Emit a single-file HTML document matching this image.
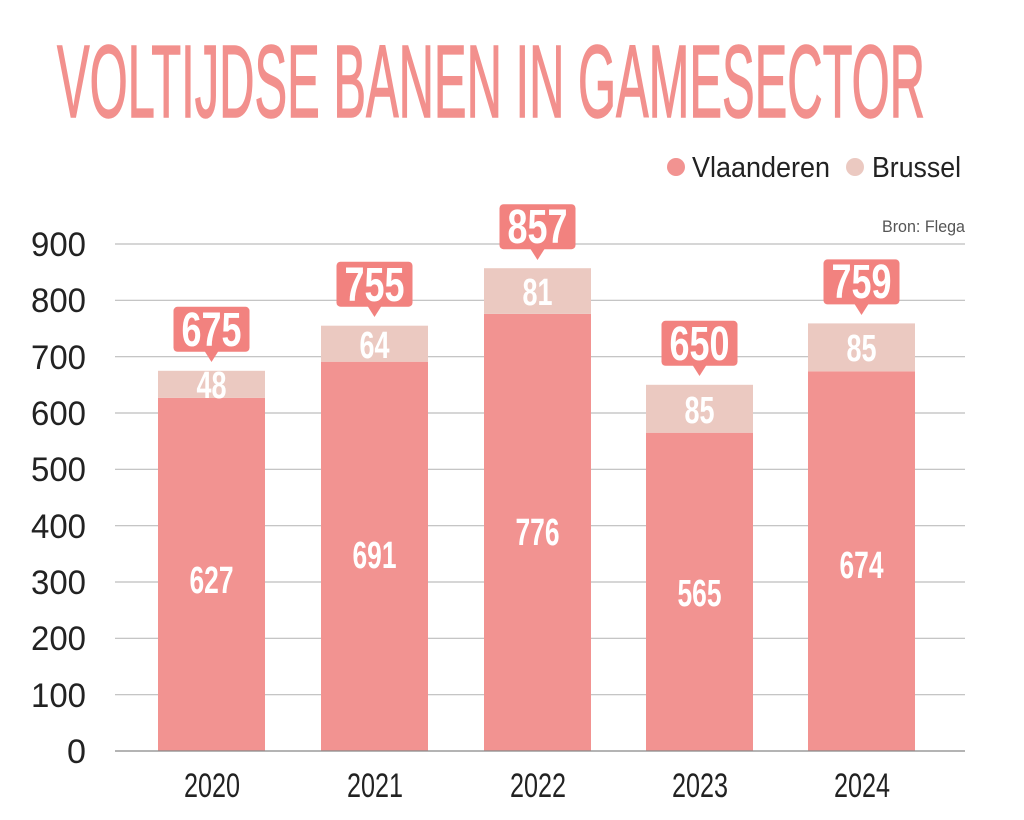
<!DOCTYPE html>
<html><head><meta charset="utf-8"><style>
html,body{margin:0;padding:0;background:#fff;}
svg{display:block;font-family:"Liberation Sans Narrow","Liberation Sans",sans-serif;}
</style></head><body>
<svg width="1024" height="820" viewBox="0 0 1024 820" xmlns="http://www.w3.org/2000/svg">
<rect width="1024" height="820" fill="#fff"/>
<text x="57" y="117" font-size="103" fill="#f2908d" stroke="#f2908d" stroke-width="1.5" textLength="868" lengthAdjust="spacingAndGlyphs">VOLTIJDSE BANEN IN GAMESECTOR</text>
<circle cx="676" cy="167" r="9" fill="#f29391"/>
<text x="692" y="177" font-size="29" fill="#222" textLength="138" lengthAdjust="spacingAndGlyphs">Vlaanderen</text>
<circle cx="855" cy="167" r="9" fill="#ebc9c1"/>
<text x="872" y="177" font-size="29" fill="#222" textLength="89" lengthAdjust="spacingAndGlyphs">Brussel</text>
<text x="965" y="232" font-size="17" fill="#555" text-anchor="end" textLength="83" lengthAdjust="spacingAndGlyphs">Bron: Flega</text>
<g stroke="#bdbdbd" stroke-width="1.2">
<line x1="115" x2="965" y1="244" y2="244"/><line x1="115" x2="965" y1="300.3" y2="300.3"/>
<line x1="115" x2="965" y1="356.7" y2="356.7"/><line x1="115" x2="965" y1="413" y2="413"/>
<line x1="115" x2="965" y1="469.3" y2="469.3"/><line x1="115" x2="965" y1="525.7" y2="525.7"/>
<line x1="115" x2="965" y1="582" y2="582"/><line x1="115" x2="965" y1="638.3" y2="638.3"/>
<line x1="115" x2="965" y1="694.7" y2="694.7"/>
</g>
<g font-size="34" fill="#222" text-anchor="end">
<text x="86" y="256" textLength="55" lengthAdjust="spacingAndGlyphs">900</text>
<text x="86" y="312" textLength="55" lengthAdjust="spacingAndGlyphs">800</text>
<text x="86" y="369" textLength="55" lengthAdjust="spacingAndGlyphs">700</text>
<text x="86" y="425" textLength="55" lengthAdjust="spacingAndGlyphs">600</text>
<text x="86" y="481" textLength="55" lengthAdjust="spacingAndGlyphs">500</text>
<text x="86" y="538" textLength="55" lengthAdjust="spacingAndGlyphs">400</text>
<text x="86" y="594" textLength="55" lengthAdjust="spacingAndGlyphs">300</text>
<text x="86" y="650" textLength="55" lengthAdjust="spacingAndGlyphs">200</text>
<text x="86" y="707" textLength="55" lengthAdjust="spacingAndGlyphs">100</text>
<text x="86" y="763" textLength="19" lengthAdjust="spacingAndGlyphs">0</text>
</g>
<g fill="#f29391">
<rect x="158" y="397.8" width="107" height="353.2"/>
<rect x="321" y="361.7" width="107" height="389.3"/>
<rect x="484" y="313.9" width="107" height="437.1"/>
<rect x="646" y="432.7" width="107" height="318.3"/>
<rect x="808" y="371.3" width="107" height="379.7"/>
</g>
<g fill="#ebc9c1">
<rect x="158" y="370.8" width="107" height="27"/>
<rect x="321" y="325.7" width="107" height="36"/>
<rect x="484" y="268.2" width="107" height="45.7"/>
<rect x="646" y="384.8" width="107" height="47.9"/>
<rect x="808" y="323.4" width="107" height="47.9"/>
</g>
<line x1="115" x2="965" y1="751" y2="751" stroke="#888" stroke-width="1.2"/>
<g font-size="38" fill="#fff" font-weight="bold" text-anchor="middle">
<text x="211.5" y="593" textLength="44" lengthAdjust="spacingAndGlyphs">627</text>
<text x="374.5" y="568" textLength="44" lengthAdjust="spacingAndGlyphs">691</text>
<text x="537.5" y="545" textLength="44" lengthAdjust="spacingAndGlyphs">776</text>
<text x="699.5" y="606" textLength="44" lengthAdjust="spacingAndGlyphs">565</text>
<text x="861.5" y="578" textLength="44" lengthAdjust="spacingAndGlyphs">674</text>
<text x="211.5" y="398" textLength="30" lengthAdjust="spacingAndGlyphs">48</text>
<text x="374.5" y="358" textLength="30" lengthAdjust="spacingAndGlyphs">64</text>
<text x="537.5" y="305" textLength="30" lengthAdjust="spacingAndGlyphs">81</text>
<text x="699.5" y="423" textLength="30" lengthAdjust="spacingAndGlyphs">85</text>
<text x="861.5" y="361" textLength="30" lengthAdjust="spacingAndGlyphs">85</text>
</g>
<g fill="#f2827f">
<rect x="173.5" y="306.8" width="76" height="45" rx="4"/><polygon points="204.5,351 218.5,351 211.5,362"/>
<rect x="336.5" y="261.7" width="76" height="45" rx="4"/><polygon points="367.5,306 381.5,306 374.5,317"/>
<rect x="499.5" y="204.2" width="76" height="45" rx="4"/><polygon points="530.5,249 544.5,249 537.5,260"/>
<rect x="661.5" y="320.8" width="76" height="45" rx="4"/><polygon points="692.5,365 706.5,365 699.5,376"/>
<rect x="823.5" y="259.4" width="76" height="45" rx="4"/><polygon points="854.5,304 868.5,304 861.5,315"/>
</g>
<g font-size="48" fill="#fff" font-weight="bold" text-anchor="middle">
<text x="211.5" y="346" textLength="60" lengthAdjust="spacingAndGlyphs">675</text>
<text x="374.5" y="301" textLength="60" lengthAdjust="spacingAndGlyphs">755</text>
<text x="537.5" y="243" textLength="60" lengthAdjust="spacingAndGlyphs">857</text>
<text x="699.5" y="360" textLength="60" lengthAdjust="spacingAndGlyphs">650</text>
<text x="861.5" y="298" textLength="60" lengthAdjust="spacingAndGlyphs">759</text>
</g>
<g font-size="34" fill="#222" text-anchor="middle">
<text x="212" y="797" textLength="56" lengthAdjust="spacingAndGlyphs">2020</text>
<text x="375" y="797" textLength="56" lengthAdjust="spacingAndGlyphs">2021</text>
<text x="538" y="797" textLength="56" lengthAdjust="spacingAndGlyphs">2022</text>
<text x="700" y="797" textLength="56" lengthAdjust="spacingAndGlyphs">2023</text>
<text x="862" y="797" textLength="56" lengthAdjust="spacingAndGlyphs">2024</text>
</g>
</svg>
</body></html>
